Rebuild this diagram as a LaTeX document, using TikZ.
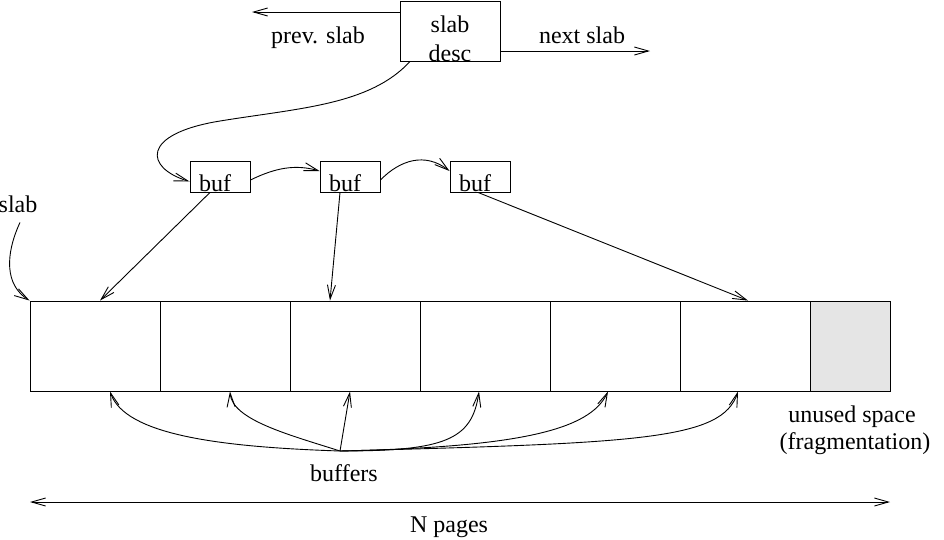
\documentclass[tikz,border=0pt]{standalone}
\usepackage{xcolor}
\usepackage{fontspec}
\setmainfont{Liberation Serif}
\usepackage{tikz}
\usetikzlibrary{arrows.meta}

\definecolor{unusedgray}{HTML}{E5E5E5}
\tikzset{
    >={Straight Barb[length=14pt,width=8pt]},
    box/.style={draw,line width=0.9pt,inner sep=0pt},
    page/.style={box,minimum width=130pt,minimum height=90pt},
    bufbox/.style={box,minimum width=60pt,minimum height=31pt},
    txt/.style={anchor=base,inner sep=0pt,font=\fontsize{24}{28}\selectfont},
    link/.style={->,line width=0.9pt},
}

\begin{document}
\begin{tikzpicture}[x=1pt,y=-1pt]
        \useasboundingbox (0,0) rectangle (944,539);

        \node[box,minimum width=100pt,minimum height=60pt] (desc) at (450,31) {};
        \node[txt] (desctop) at (450,32) {slab};
        \node[txt] (descbot) at (450,61) {desc};
        \node[txt] (prevtxt) at (318,43) {prev. slab};
        \node[txt] (nexttxt) at (582,43) {next slab};
        \coordinate (prev) at (252,12);
        \coordinate (next) at (650,51);

        \node[bufbox] (buf1) at (220,176.5) {};
        \node[bufbox] (buf2) at (350,176.5) {};
        \node[bufbox] (buf3) at (480,176.5) {};
        \node[txt] (buf1txt) at (215,191) {buf};
        \node[txt] (buf2txt) at (345,191) {buf};
        \node[txt] (buf3txt) at (475,191) {buf};

        \node[box,fill=unusedgray,minimum width=80pt,minimum height=90pt] (unused) at (850,346) {};
        \node[page] (page1) at (95,346) {};
        \node[page] (page2) at (225,346) {};
        \node[page] (page3) at (355,346) {};
        \node[page] (page4) at (485,346) {};
        \node[page] (page5) at (615,346) {};
        \node[page] (page6) at (745,346) {};

        \node[txt] (slabtxt) at (18,212) {slab};
        \node[txt] (unusedtxt) at (852,422) {unused space};
        \node[txt] (fragtxt) at (855,449) {(fragmentation)};
        \node[txt] (bufferstxt) at (344,481) {buffers};
        \node[txt] (pagestxt) at (449,532) {N pages};
        \coordinate (fan) at (340,451);
        \coordinate (nl) at (30,502);
        \coordinate (nr) at (890,502);

        \draw[link] ([yshift=19pt]desc.west) -- (prev);
        \draw[link] ([yshift=-20pt]desc.east) -- (next);
        \draw[link] ([xshift=-40pt]desc.south) .. controls (370,105) and (300,108) .. (220,121)
            .. controls (140,134) and (145,168) .. ([yshift=-5pt]buf1.west);

        \draw[link] ([yshift=-3.5pt]buf1.east) .. controls (275,168) and (295,164) .. ([yshift=5.5pt]buf2.west);
        \draw[link] ([yshift=-3.5pt]buf2.east) .. controls (400,160) and (425,152) .. ([yshift=5.5pt]buf3.west);

        \draw[link] ([xshift=-10pt]buf1.south) -- ([xshift=5pt]page1.north);
        \draw[link] ([xshift=-10pt]buf2.south) -- ([xshift=-25pt]page3.north);
        \draw[link] ([xshift=-2pt]buf3.south) -- ([xshift=3pt]page6.north);

        \draw[link] ([shift={(2pt,-10pt)}]slabtxt.south) .. controls (5,255) and (5,285) .. (page1.north west);

        \draw[link] (fan) .. controls (220,447) and (125,435) .. ([xshift=15pt]page1.south);
        \draw[link] (fan) .. controls (290,435) and (232,420) .. ([xshift=5pt]page2.south);
        \draw[link] (fan) -- ([xshift=-5pt]page3.south);
        \draw[link] (fan) .. controls (445,451) and (472,440) .. ([xshift=-6pt]page4.south);
        \draw[link] (fan) .. controls (520,447) and (590,430) .. ([xshift=-7pt]page5.south);
        \draw[link] (fan) .. controls (640,443) and (722,440) .. ([xshift=-7pt]page6.south);

        \draw[link,<->] (nl) -- (nr);
    \end{tikzpicture}
\end{document}
